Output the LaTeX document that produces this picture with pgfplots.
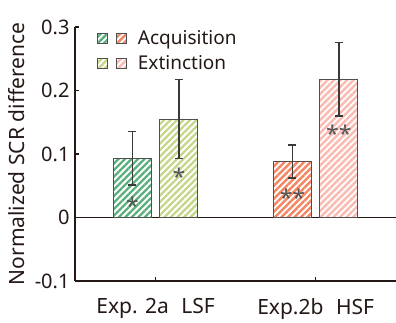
\documentclass[border=0pt]{standalone}
\usepackage{pgfplots}
\pgfplotsset{compat=1.18}
\usepackage{fontspec}
\setmainfont{Noto Sans}
\usetikzlibrary{patterns.meta}
\definecolor{txt}{HTML}{231815}
\definecolor{edge}{HTML}{4F4F4F}
\definecolor{errc}{HTML}{3A3A3A}
\definecolor{astc}{HTML}{555555}
\definecolor{gA}{HTML}{5AAF7C}
\definecolor{gE}{HTML}{C4D78A}
\definecolor{oA}{HTML}{F38763}
\definecolor{oE}{HTML}{FBBAB2}
\tikzset{
  stripe/.style={fill=white, draw=edge, line width=1.1pt,
    postaction={pattern={Lines[angle=45,distance=4.6pt,line width=2.4pt]}, pattern color=#1}},
}
\begin{document}
\begin{tikzpicture}
\path[use as bounding box] (-75pt,-42pt) rectangle (321pt,281pt);
\begin{axis}[
  at={(0pt,0pt)}, anchor=south west,
  scale only axis, width=321pt, height=254pt,
  xmin=-0.504, xmax=1.502, ymin=-0.1, ymax=0.3,
  axis x line*=bottom, axis y line*=left,
  axis line style={color=txt, line width=1.2pt},
  tick style={color=txt, line width=1.1pt},
  major tick length=4pt, tick align=inside,
  xtick={0,1}, xticklabels={Exp. 2a\hspace{0.6em}LSF, Exp.2b\hspace{0.6em}HSF},
  ytick={-0.1,0,0.1,0.2,0.3}, yticklabels={-0.1,0,0.1,0.2,0.3},
  ticklabel style={font=\fontsize{20}{23}\selectfont, text=txt},
  xticklabel style={yshift=-14pt, font=\fontsize{21}{23}\selectfont},
  yticklabel style={xshift=-2pt},
  ylabel={Normalized SCR difference},
  every axis y label/.style={at={(axis description cs:-0.183,0.5)}, rotate=90, anchor=center, font=\fontsize{21}{23}\selectfont, text=txt},
  clip=false,
  legend style={at={(axis description cs:0.068,0.995)}, anchor=north west, draw=none, fill=none,
    font=\fontsize{19}{22}\selectfont, text=txt, row sep=6pt, inner sep=0pt,
    nodes={inner sep=2pt}},
  legend cell align=left,
  error bars/y dir=both, error bars/y explicit,
  error bars/error bar style={color=errc, line width=1.3pt},
  error bars/error mark options={rotate=90, mark size=4pt, line width=1.3pt, color=errc},
]
\addplot[color=txt, line width=1.1pt, forget plot] coordinates {(-0.504,0) (1.502,0)};
\addplot[ybar, bar width=0.2375, bar shift=0, stripe=gA, forget plot] coordinates {(-0.145,0.093) +- (0,0.042)};
\addplot[ybar, bar width=0.2375, bar shift=0, stripe=gE, forget plot] coordinates {(0.145,0.155) +- (0,0.062)};
\addplot[ybar, bar width=0.2375, bar shift=0, stripe=oA, forget plot] coordinates {(0.855,0.088) +- (0,0.026)};
\addplot[ybar, bar width=0.2375, bar shift=0, stripe=oE, forget plot] coordinates {(1.145,0.218) +- (0,0.058)};
\addlegendimage{legend image code/.code={
  \draw[stripe=gA, line width=0.9pt] (0pt,-5pt) rectangle (10pt,5pt);
  \draw[stripe=oA, line width=0.9pt] (19pt,-5pt) rectangle (29pt,5pt);}}
\addlegendentry{\hspace{9pt}Acquisition}
\addlegendimage{legend image code/.code={
  \draw[stripe=gE, line width=0.9pt] (0pt,-5pt) rectangle (10pt,5pt);
  \draw[stripe=oE, line width=0.9pt] (19pt,-5pt) rectangle (29pt,5pt);}}
\addlegendentry{\hspace{9pt}Extinction}
\node[text=astc, font=\fontsize{23}{24}\selectfont, anchor=center] at (axis cs:-0.145,0.019) {*};
\node[text=astc, font=\fontsize{23}{24}\selectfont, anchor=center] at (axis cs:0.145,0.064) {*};
\node[text=astc, font=\fontsize{23}{24}\selectfont, anchor=center] at (axis cs:0.855,0.031) {**};
\node[text=astc, font=\fontsize{23}{24}\selectfont, anchor=center] at (axis cs:1.145,0.132) {**};
\end{axis}
\end{tikzpicture}
\end{document}
